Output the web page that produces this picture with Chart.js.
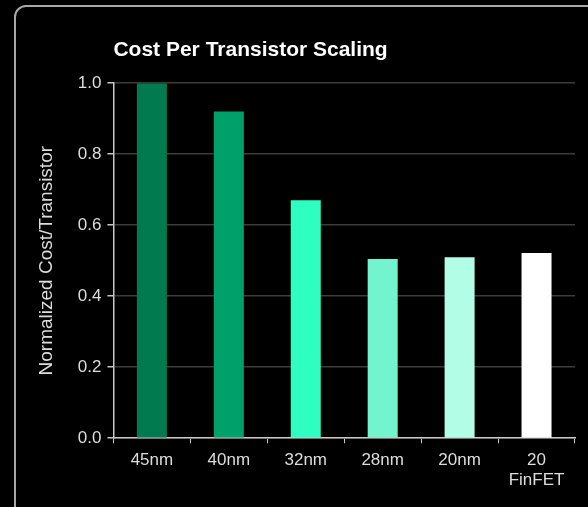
<!DOCTYPE html>
<html>
<head>
<meta charset="utf-8">
<script src="https://cdn.jsdelivr.net/npm/chart.js@4"></script>
<style>
  html, body { margin: 0; padding: 0; background: #000; }
  #frame {
    position: absolute; left: 14px; top: 5px; width: 600px; height: 520px;
    border: 2px solid #a8a8a8; border-radius: 12px; box-sizing: border-box;
  }
  #wrap { position: absolute; left: 0; top: 0; width: 588px; height: 507px; }
</style>
</head>
<body>
<div id="frame"></div>
<div id="wrap"><canvas id="chart" width="588" height="507"></canvas></div>
<script>
// values
nodes = ["45nm", "40nm", "32nm", "28nm", "20nm", ["20", "FinFET"]];
costPerTransistor = [1.0, 0.92, 0.67, 0.505, 0.51, 0.522];
barColors = ["#007a4e", "#00a06a", "#2effc0", "#72f5cf", "#b2fde6", "#ffffff"];
yTicks = [0.0, 0.2, 0.4, 0.6, 0.8, 1.0];

var font = "'Liberation Sans', Arial, Helvetica, sans-serif";

var ctx = document.getElementById("chart").getContext("2d");
myBarChart = new Chart(ctx, {
    type: 'bar',
    data: {
        labels: nodes,
        datasets: [{
            data: costPerTransistor,
            backgroundColor: barColors,
            borderWidth: 0,
            barPercentage: 0.39,
            categoryPercentage: 1.0
        }]
    },
    options: {
        responsive: false,
        animation: false,
        layout: { padding: { left: 35, right: 13, top: 20, bottom: 9 } },
        plugins: {
            legend: { display: false },
            tooltip: { enabled: false },
            title: {
                display: true,
                text: "Cost Per Transistor Scaling",
                align: 'start',
                fullSize: false,
                color: "#ffffff",
                font: { family: font, size: 21, weight: 'bold' },
                padding: { top: 18, bottom: 20 }
            }
        },
        scales: {
            x: {
                grid: {
                    offset: true,
                    drawOnChartArea: false,
                    tickLength: 5,
                    tickColor: "#c8c8c8"
                },
                border: { color: "#c8c8c8", width: 1.5 },
                ticks: {
                    color: "#dddddd",
                    padding: 7,
                    maxRotation: 0,
                    font: { family: font, size: 17 }
                }
            },
            y: {
                min: 0,
                max: 1,
                afterBuildTicks: function (axis) {
                    axis.ticks = yTicks.map(function (v) { return { value: v }; });
                },
                grid: {
                    color: "#3c3c3c",
                    lineWidth: 1.5,
                    tickLength: 6,
                    tickColor: "#c8c8c8"
                },
                border: { color: "#c8c8c8", width: 1.5 },
                ticks: {
                    color: "#dddddd",
                    padding: 6,
                    font: { family: font, size: 17 },
                    callback: function (v) { return Number(v).toFixed(1); }
                },
                title: {
                    display: true,
                    text: "Normalized Cost/Transistor",
                    color: "#dddddd",
                    padding: { top: 0, bottom: 14 },
                    font: { family: font, size: 19 }
                }
            }
        }
    }
});
</script>
</body>
</html>
